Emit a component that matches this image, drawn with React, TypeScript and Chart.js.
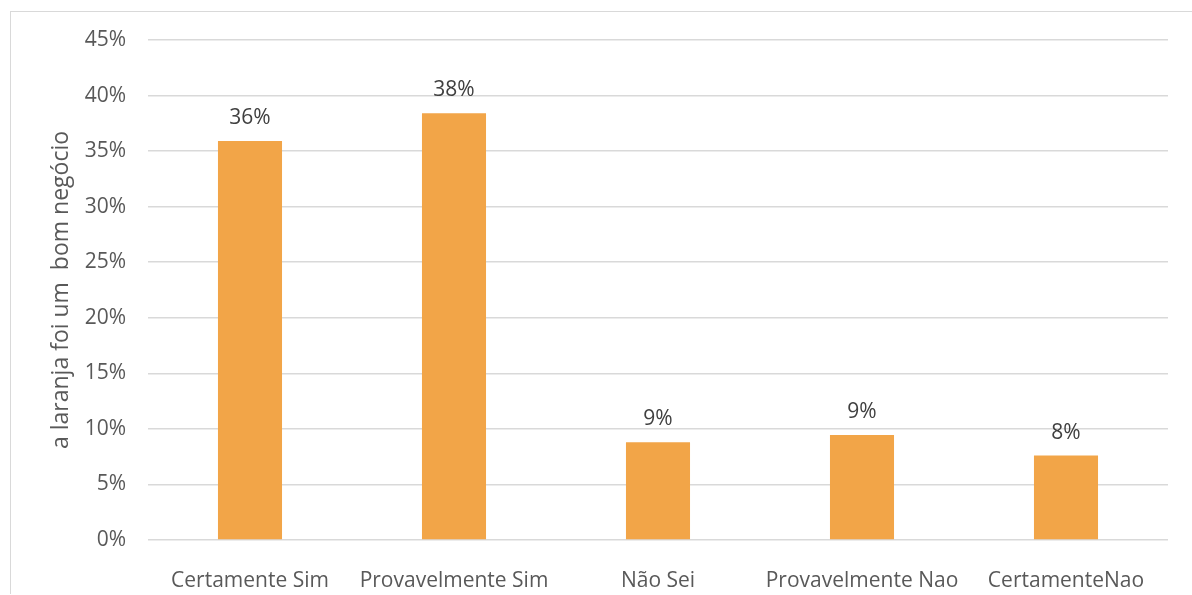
import React, { useEffect, useRef } from "react";
import { Chart, registerables } from "chart.js";

Chart.register(...registerables);

const categories = ["Certamente Sim", "Provavelmente Sim", "Não Sei", "Provavelmente Nao", "CertamenteNao"];
const values = [35.9, 38.4, 8.8, 9.45, 7.6];
const valueLabels = ["36%", "38%", "9%", "9%", "8%"];
const yTicks = [0, 5, 10, 15, 20, 25, 30, 35, 40, 45];
const yTitle = "a laranja foi um  bom negócio";

const FONT = '"Open Sans", "Noto Sans", sans-serif';

const barLabelPlugin = {
  id: "barLabels",
  afterDatasetsDraw(chart: any) {
    const ctx = chart.ctx;
    const meta = chart.getDatasetMeta(0);
    ctx.save();
    ctx.font = `21px ${FONT}`;
    ctx.fillStyle = "#404040";
    ctx.textAlign = "center";
    ctx.textBaseline = "alphabetic";
    meta.data.forEach((bar: any, i: number) => {
      ctx.fillText(valueLabels[i], bar.x, bar.y - 17);
    });
    ctx.restore();
  },
};

export default function App() {
  const canvasRef = useRef<HTMLCanvasElement | null>(null);

  useEffect(() => {
    let chart: Chart | null = null;
    let cancelled = false;
    const make = () => {
      if (cancelled || !canvasRef.current) return;
      chart = new Chart(canvasRef.current, {
        type: "bar",
        data: {
          labels: categories,
          datasets: [
            {
              data: values,
              backgroundColor: "#F2A548",
              borderWidth: 0,
              barPercentage: 0.314,
              categoryPercentage: 1,
            },
          ],
        },
        options: {
          responsive: false,
          animation: false,
          devicePixelRatio: 1,
          layout: { padding: { left: 0, top: 40, right: 24, bottom: 0 } },
          plugins: {
            legend: { display: false },
            tooltip: { enabled: false },
          },
          scales: {
            x: {
              grid: { display: false },
              border: { display: false },
              ticks: {
                color: "#595959",
                font: { family: FONT, size: 21 },
                padding: 20,
                maxRotation: 0,
                autoSkip: false,
              },
              afterFit: (scale: any) => {
                scale.height = 55;
              },
            },
            y: {
              min: 0,
              max: 45,
              afterBuildTicks: (scale: any) => {
                scale.ticks = yTicks.map((v) => ({ value: v }));
              },
              grid: { color: "#D9D9D9", lineWidth: 1.5, drawTicks: false },
              border: { display: false },
              ticks: {
                color: "#595959",
                font: { family: FONT, size: 21 },
                padding: 22,
                callback: (v: any) => `${v}%`,
              },
              title: {
                display: true,
                text: yTitle,
                color: "#595959",
                font: { family: FONT, size: 23 },
                padding: { top: 48, bottom: 0 },
              },
              afterFit: (scale: any) => {
                scale.width = 148;
              },
            },
          },
        },
        plugins: [barLabelPlugin],
      });
    };
    const fonts: any = (document as any).fonts;
    if (fonts && fonts.load) {
      fonts.load(`21px "Open Sans"`).then(make, make);
    } else {
      make();
    }
    return () => {
      cancelled = true;
      if (chart) chart.destroy();
    };
  }, []);

  return (
    <div style={{ position: "fixed", left: 0, top: 0, width: 1192, height: 595, background: "#fff", overflow: "hidden" }}>
      <div
        style={{
          position: "absolute",
          left: 10,
          top: 11,
          width: 1200,
          height: 582,
          borderLeft: "1.5px solid #D9D9D9",
          borderTop: "1.5px solid #D9D9D9",
        }}
      />
      <canvas ref={canvasRef} width={1192} height={595} style={{ position: "absolute", left: 0, top: 0 }} />
    </div>
  );
}
